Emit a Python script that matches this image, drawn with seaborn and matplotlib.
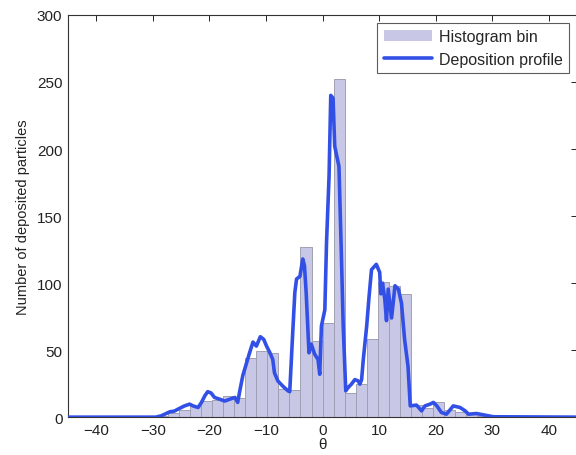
import numpy as np
import pandas as pd
import matplotlib
matplotlib.use("Agg")
import matplotlib.pyplot as plt
import seaborn as sns
from matplotlib.patches import Patch
from matplotlib.lines import Line2D

# ---- data ----
bin_width = 1.95
bin_index = list(range(-15, 15))
bin_counts = [1, 3, 5, 8, 12, 13, 16, 14, 44, 49,
              48, 21, 20, 127, 57, 70, 252, 18, 25, 58,
              101, 98, 92, 9, 7, 11, 5, 4, 2, 1]

profile_theta = [-45, -29.5, -28.5, -27.5, -27.0, -26.2, -25.3, -24.4, -23.5, -22.9,
                 -22.0, -21.4, -20.8, -20.3, -19.7, -19.1, -18.2, -17.3, -16.4, -15.5,
                 -15.0, -14.7, -14.1, -13.5, -12.9, -12.3, -11.7, -11.0, -10.4, -9.9,
                 -9.3, -8.8, -8.5, -7.9, -7.0, -6.1, -5.8, -5.3, -4.9, -4.6,
                 -4.0, -3.5, -3.2, -2.9, -2.4, -2.0, -1.4, -0.8, -0.5, -0.2,
                 0.1, 0.4, 0.7, 1.15, 1.45, 1.85, 2.15, 2.9, 3.3, 3.65,
                 4.1, 4.5, 5.1, 5.7, 6.3, 6.6, 6.9, 7.2, 7.8, 8.2,
                 8.65, 9.5, 10.1, 10.3, 10.6, 11.0, 11.3, 11.6, 12.2, 12.8,
                 13.4, 13.95, 14.5, 15.1, 15.5, 16.6, 17.5, 18.1, 19.0, 19.6,
                 20.2, 21.0, 21.9, 23.1, 24.3, 25.2, 25.8, 27.2, 28.7, 30.2, 45]
profile_count = [0, 0, 1, 3, 4, 4.5, 6.5, 8.4, 9.7, 8.4,
                 7.2, 11, 16, 19, 18, 14.7, 13.4, 12, 13.4, 14.7,
                 11, 18, 31, 39.5, 48, 56, 53, 60, 58, 53,
                 48, 43, 33, 27, 23, 19.6, 19, 61, 93, 103,
                 105, 118, 113, 93, 48, 54.5, 47, 43, 32, 68,
                 74, 80, 130, 180, 240, 238, 202, 187, 125, 68,
                 19.6, 22, 24.6, 28, 27, 24.6, 28, 43, 68, 89,
                 110, 114, 108, 92, 100, 88, 72, 95.5, 74, 98,
                 95.5, 85, 58, 38, 8.4, 9, 4.7, 8.4, 9.7, 11,
                 8.4, 3.5, 2.2, 8.4, 7.2, 4.7, 2.2, 2.7, 1.5, 0.3, 0]

x_ticks = [-40, -30, -20, -10, 0, 10, 20, 30, 40]
y_ticks = [0, 50, 100, 150, 200, 250, 300]

# ---- style ----
sns.set_theme(style="white")
plt.rcParams['font.family'] = ['Liberation Sans', 'DejaVu Sans']

fig = plt.figure(figsize=(5.76, 4.56), dpi=100)
ax = fig.add_axes([0.118, 0.083, 0.884, 0.882])

bin_edges = [float(i * bin_width) for i in bin_index + [bin_index[-1] + 1]]
bin_centers = [(i + 0.5) * bin_width for i in bin_index]
hist_df = pd.DataFrame({"theta": bin_centers, "count": bin_counts})
line_df = pd.DataFrame({"theta": profile_theta, "count": profile_count})

hist_color = "#c8c8e6"
line_color = "#3350e6"

sns.histplot(data=hist_df, x="theta", weights="count", bins=bin_edges,
             color=hist_color, edgecolor="#a0a0b4", linewidth=0.7, alpha=1.0, ax=ax)
sns.lineplot(data=line_df, x="theta", y="count", color=line_color,
             linewidth=2.6, ax=ax, zorder=3)

ax.set_xlim(-45, 45)
ax.set_ylim(0, 300)
ax.set_xticks(x_ticks)
ax.set_yticks(y_ticks)
ax.set_xticklabels([str(t).replace('-', '\u2212') for t in x_ticks])
ax.set_xlabel("θ", fontsize=11, color="#222222", labelpad=0)
ax.set_ylabel("Number of deposited particles", fontsize=10.5, color="#222222", labelpad=5)
ax.tick_params(direction="in", length=4, width=0.7, top=True, right=True,
               labelsize=11, labelcolor="#222222", colors="#222222", pad=4)
for s in ax.spines.values():
    s.set_visible(True)
    s.set_color("#333333")
    s.set_linewidth(0.8)

handles = [Patch(facecolor=hist_color, edgecolor="none", label="Histogram bin"),
           Line2D([0], [0], color=line_color, linewidth=2.6, label="Deposition profile")]
leg = ax.legend(handles=handles, loc="upper right", fontsize=11.5, frameon=True,
                fancybox=False, edgecolor="#333333", borderaxespad=0.5,
                handlelength=3.0, handletextpad=0.45, borderpad=0.4, labelspacing=0.45)
leg.get_frame().set_linewidth(0.8)

fig.savefig("out.png", dpi=100)
